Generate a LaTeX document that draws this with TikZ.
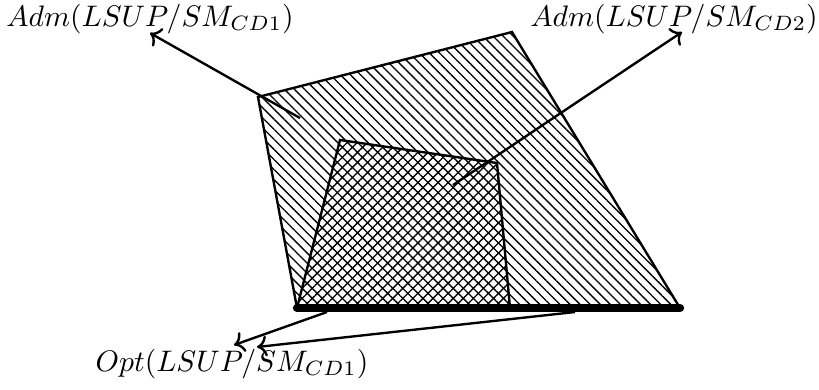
\documentclass[tikz,border=0pt]{standalone}
\usepackage{amsmath,amssymb}
\usepackage{tikz}
\usetikzlibrary{arrows.meta,positioning,calc,patterns.meta}
\tikzset{
  % regions are outlined and hatched
  region/.style = {draw=black, thick, line join=miter},
  hatch/.style  = {pattern={Lines[angle=#1, distance=2.4pt, line width=0.45pt]}},
  opt/.style    = {line cap=round, line width=2.8pt},
  arr/.style    = {->, thick},
  lbl/.style    = {inner sep=1pt, font=\normalsize},
}
\begin{document}
\begin{tikzpicture}[x=0.337pt, y=-0.337pt]
\useasboundingbox (0,0) rectangle (819,389);
\coordinate (p1) at (258,97);
\coordinate (p2) at (512,32);
\coordinate (p3) at (680,308);
\coordinate (p4) at (297,308);
\coordinate (q1) at (340,140);
\coordinate (q2) at (497,163);
\coordinate (q3) at (510,308);
\draw[region, hatch=-45] (p1) -- (p2) -- (p3) -- (p4) -- cycle;
\draw[region, hatch=45] (q1) -- (q2) -- (q3) -- (p4) -- cycle;
\draw[opt] (p4) -- (p3);
% labels
\node[lbl] (adm1) at (150,19) {$Adm(LSUP/SM_{CD1})$};
\node[lbl] (adm2) at (674,19) {$Adm(LSUP/SM_{CD2})$};
\node[lbl] (opt1) at (232,364) {$Opt(LSUP/SM_{CD1})$};
\coordinate (a1) at (300,118);
\coordinate (a2) at (453,185);
\coordinate (b1) at (327,312);
\coordinate (b2) at (575,312);
\coordinate (t1) at (150,33);
\coordinate (t2) at (682,32);
\coordinate (u1) at (234,345);
\coordinate (u2) at (257,347);
\draw[arr] (a1) -- (t1);
\draw[arr] (a2) -- (t2);
\draw[arr] (b1) -- (u1);
\draw[arr] (b2) -- (u2);
\end{tikzpicture}
\end{document}
